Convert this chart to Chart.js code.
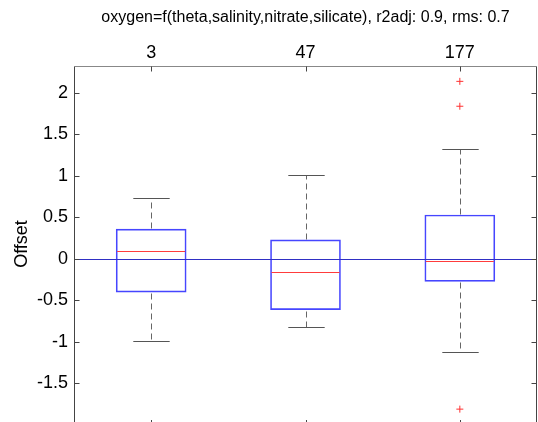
<!DOCTYPE html>
<html>
<head>
<meta charset="utf-8">
<script src="https://cdn.jsdelivr.net/npm/chart.js@4.4.0/dist/chart.umd.min.js"></script>
<style>
  html, body { margin: 0; padding: 0; overflow: hidden; background: #fff; }
  canvas { display: block; }
</style>
</head>
<body>
<canvas id="boxChart" width="538" height="422"></canvas>
<script>
// group sizes shown on the top axis
const counts = ["3", "47", "177"];
// box statistics per group
const q1 = [-0.40, -0.61, -0.27];
const q3 = [0.36, 0.23, 0.53];
const medians = [0.10, -0.16, -0.02];
const whiskerLow = [-0.99, -0.82, -1.12];
const whiskerHigh = [0.74, 1.01, 1.32];
const outlierGroup = ["177", "177", "177"];
const outlierValue = [2.14, 1.84, -1.81];
const yTicks = [-1.5, -1, -0.5, 0, 0.5, 1, 1.5, 2];
const refLine = 0;

const FONT = "'Liberation Sans', Arial, sans-serif";
Chart.defaults.color = "#000";
Chart.defaults.font.family = FONT;

// whiskers, medians, zero line, frame and inward ticks
const boxExtras = {
  id: "boxExtras",
  afterDatasetsDraw(chart) {
    const { ctx, chartArea: a, scales: { x, y } } = chart;
    const bars = chart.getDatasetMeta(0).data;
    const py = v => Math.round(y.getPixelForValue(v)) + 0.5;
    const seg = (x1, y1, x2, y2) => {
      ctx.beginPath();
      ctx.moveTo(x1, y1);
      ctx.lineTo(x2, y2);
      ctx.stroke();
    };
    ctx.save();
    ctx.lineWidth = 1;

    bars.forEach((bar, i) => {
      const cx = Math.round(bar.x) + 0.5;
      const half = bar.width / 2;
      const cap = half * 0.52;
      ctx.strokeStyle = "#666";
      ctx.setLineDash([6, 4]);
      seg(cx, py(q3[i]) - 1, cx, py(whiskerHigh[i]));
      seg(cx, py(q1[i]) + 1, cx, py(whiskerLow[i]));
      ctx.setLineDash([]);
      ctx.strokeStyle = "#555";
      seg(cx - cap, py(whiskerHigh[i]), cx + cap, py(whiskerHigh[i]));
      seg(cx - cap, py(whiskerLow[i]), cx + cap, py(whiskerLow[i]));
      ctx.strokeStyle = "rgb(255,60,60)";
      seg(bar.x - half + 1, py(medians[i]), bar.x + half - 1, py(medians[i]));
    });

    ctx.strokeStyle = "#2f2fc4";
    seg(a.left, py(refLine), a.right, py(refLine));

    // frame: bottom edge lies just below the visible page
    const L = Math.round(a.left) + 0.5, R = Math.round(a.right) - 0.5, T = Math.round(a.top) + 0.5;
    ctx.strokeStyle = "#888";
    seg(L, T, R, T);
    ctx.strokeStyle = "#444";
    seg(L, T, L, a.bottom);
    seg(R, T, R, a.bottom);
    const tl = 5;
    y.ticks.forEach(t => {
      const p = py(t.value);
      seg(L, p, L + tl, p);
      seg(R - tl, p, R, p);
    });
    counts.forEach((c, i) => {
      const p = Math.round(x.getPixelForValue(i)) + 0.5;
      seg(p, T, p, T + tl);
      seg(p, a.bottom - 2, p, a.bottom);
    });
    ctx.restore();
  }
};

const noPad = s => { s.paddingTop = 0; s.paddingBottom = 0; s.paddingLeft = 0; s.paddingRight = 0; };

const ctx = document.getElementById("boxChart").getContext("2d");
new Chart(ctx, {
  type: "bar",
  data: {
    labels: counts,
    datasets: [
      {
        label: "box",
        data: counts.map((c, i) => [q1[i], q3[i]]),
        backgroundColor: "rgba(0,0,0,0)",
        borderColor: "rgb(70,70,255)",
        borderWidth: 1,
        borderSkipped: false,
        barThickness: 70
      },
      {
        type: "line",
        label: "outliers",
        data: outlierGroup.map((g, i) => ({ x: g, y: outlierValue[i] })),
        showLine: false,
        pointStyle: "cross",
        pointRadius: 3.5,
        pointBorderWidth: 1,
        borderColor: "rgb(255,50,50)",
        backgroundColor: "rgb(255,50,50)"
      }
    ]
  },
  options: {
    responsive: false,
    animation: false,
    events: [],
    layout: { autoPadding: false, padding: { left: 0, right: 1, top: 0, bottom: 0 } },
    plugins: {
      legend: { display: false },
      tooltip: { enabled: false },
      title: {
        display: true,
        fullSize: false,
        text: "oxygen=f(theta,salinity,nitrate,silicate), r2adj: 0.9, rms: 0.7",
        font: { size: 16, weight: "normal", family: FONT, lineHeight: 1.2 },
        color: "#000",
        padding: { top: 8, bottom: 0 }
      }
    },
    scales: {
      x: {
        position: "top",
        grid: { display: false, drawTicks: false },
        border: { display: false },
        ticks: { font: { size: 18 }, padding: 2 },
        afterFit: s => { s.height = 38.8; noPad(s); }
      },
      y: {
        min: -1.965,
        max: 2.325,
        grid: { display: false, drawTicks: false },
        border: { display: false },
        afterBuildTicks: s => { s.ticks = yTicks.map(v => ({ value: v })); },
        ticks: { font: { size: 18 }, padding: 6, callback: v => String(v) },
        title: {
          display: true,
          text: "Offset",
          font: { size: 18 },
          padding: { top: 11, bottom: 0 }
        },
        afterFit: s => { s.width = 74; noPad(s); }
      }
    }
  },
  plugins: [boxExtras]
});
</script>
</body>
</html>
